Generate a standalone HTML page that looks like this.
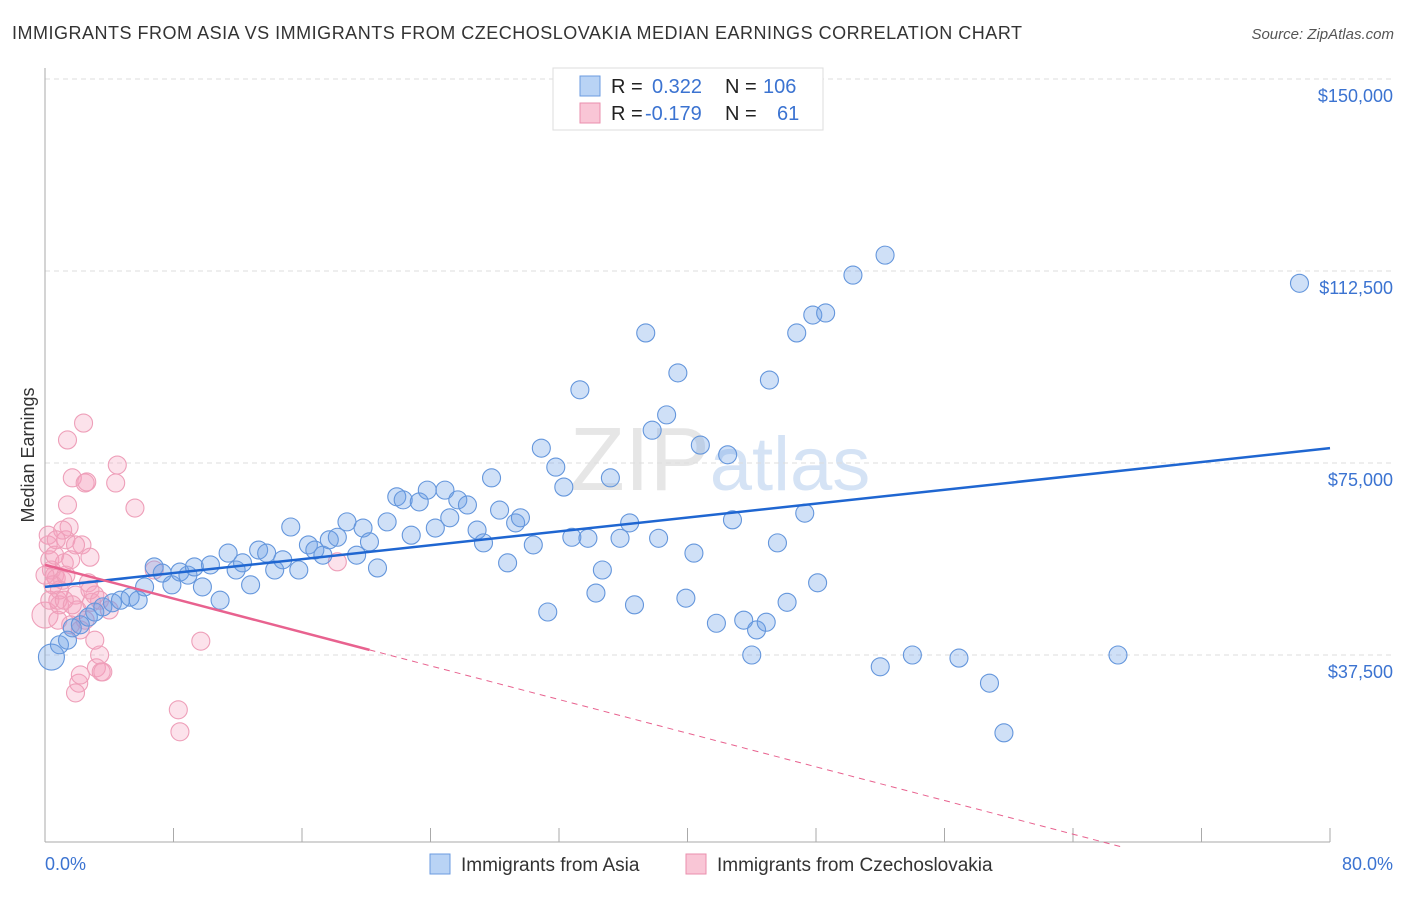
<!DOCTYPE html>
<html><head><meta charset="utf-8"><style>
body{margin:0;background:#fff;font-family:"Liberation Sans",sans-serif;}
svg text{font-family:"Liberation Sans",sans-serif;}
</style></head><body>
<svg id="chart" width="1406" height="892" xmlns="http://www.w3.org/2000/svg">
<text x="12" y="39" font-size="18" fill="#333" textLength="1010" lengthAdjust="spacing">IMMIGRANTS FROM ASIA VS IMMIGRANTS FROM CZECHOSLOVAKIA MEDIAN EARNINGS CORRELATION CHART</text>
<text x="1394" y="39" font-size="15" fill="#555" text-anchor="end" font-style="italic">Source: ZipAtlas.com</text>
<text x="720" y="490" font-size="90" fill="#e6e6e6" text-anchor="middle" font-family="Liberation Serif">ZIP<tspan fill="#d5e3f5" font-family="Liberation Sans" font-size="76">atlas</tspan></text>
<text transform="translate(34,455) rotate(-90)" font-size="18" fill="#333" text-anchor="middle">Median Earnings</text>
<g id="grid"></g><g id="axes"></g><g id="marks"></g><g id="lines"></g>
<g>
<rect x="553" y="68" width="270" height="62" fill="#fff" stroke="#ddd"/>
<rect x="580" y="76" width="20" height="20" fill="#b9d3f5" stroke="#6b9be0"/>
<rect x="580" y="103" width="20" height="20" fill="#f9c6d6" stroke="#ea8fad"/>
<text x="611" y="93" font-size="20" fill="#222">R = <tspan fill="#3b73d1" x="652">0.322</tspan><tspan x="725" fill="#222">N = </tspan><tspan fill="#3b73d1" x="763">106</tspan></text>
<text x="611" y="120" font-size="20" fill="#222">R = <tspan fill="#3b73d1" x="645">-0.179</tspan><tspan x="725" fill="#222">N = </tspan><tspan fill="#3b73d1" x="777">61</tspan></text>
</g>
<g>
<rect x="430" y="854" width="20" height="20" fill="#b9d3f5" stroke="#6b9be0"/>
<text x="461" y="871" font-size="19" fill="#333">Immigrants from Asia</text>
<rect x="686" y="854" width="20" height="20" fill="#f9c6d6" stroke="#ea8fad"/>
<text x="717" y="871" font-size="19" fill="#333">Immigrants from Czechoslovakia</text>
</g>
<text x="45" y="870" font-size="18" fill="#3b73d1">0.0%</text>
<text x="1393" y="870" font-size="18" fill="#3b73d1" text-anchor="end">80.0%</text>
</svg>
<script>
const yTickValues=[37500,75000,112500,150000];
const yTickLabels=["$37,500","$75,000","$112,500","$150,000"];
const xTickValues=[0,8,16,24,32,40,48,56,64,72,80];
const asiaX=[0.4,0.9,1.4,1.7,2.2,2.7,3.1,3.6,4.2,4.7,5.3,5.8,6.2,6.8,7.3,7.9,8.4,8.9,9.3,9.8,10.3,10.9,11.4,11.9,12.3,12.8,13.3,13.8,14.3,14.8,15.8,15.3,16.4,16.8,17.3,17.7,18.2,18.8,19.4,19.8,20.2,20.7,21.3,21.9,22.3,22.8,23.3,23.8,24.3,24.9,25.2,25.7,26.3,26.9,27.3,27.8,28.3,28.8,29.3,29.6,30.4,30.9,31.3,31.8,32.3,32.8,33.3,33.8,34.3,34.7,35.2,35.8,36.4,36.7,37.4,37.8,38.2,38.7,39.4,39.9,40.4,40.8,41.8,42.5,42.8,43.5,44.0,44.3,44.9,45.1,45.6,46.2,46.8,47.3,47.8,48.1,48.6,50.3,52.0,52.3,54.0,56.9,58.8,59.7,66.8,78.1];
const asiaY=[37.1,39.5,40.4,42.8,43.4,44.9,45.9,46.9,47.7,48.2,48.8,48.2,50.8,54.7,53.5,51.2,53.7,53.1,54.7,50.8,55.1,48.2,57.4,54.1,55.5,51.2,58.0,57.4,54.1,56.1,54.1,62.5,59.0,58.0,57.0,60.0,60.5,63.5,57.0,62.3,59.6,54.5,63.5,68.4,67.8,60.9,67.4,69.7,62.3,69.7,64.3,67.8,66.8,61.9,59.4,72.1,65.8,55.5,63.3,64.3,59.0,77.9,45.9,74.2,70.3,60.5,89.3,60.3,49.6,54.1,72.1,60.3,63.3,47.3,100.4,81.4,60.3,84.4,92.6,48.6,57.4,78.5,43.7,76.6,63.9,44.3,37.5,42.4,43.9,91.2,59.4,47.8,100.4,65.2,103.9,51.6,104.3,111.7,35.2,115.6,37.5,36.9,32.0,22.3,37.5,110.1];
const czechX=[0,0.2,0.3,0.4,0.6,0.7,0.8,0.9,1.1,1.2,1.3,1.4,1.5,1.6,1.7,2.5,1.4,1.9,2.0,2.2,2.3,2.4,2.6,2.7,2.8,2.9,3.1,3.2,3.4,3.5,3.6,2.1,1.9,2.2,4.5,4.4,5.6,8.3,8.4,9.7,18.2,6.8,2.5,0.9,0.6,0.3,1.2,1.6,2.8,3.4,4.0,1.1,1.9,0.5,0.8,1.3,1.7,3.1,0,0.2,0.7];
const czechY=[45.3,59.0,56.1,54.1,53.1,52.5,48.2,47.3,52.1,55.5,60.0,66.8,62.5,43.4,72.1,71.1,79.5,49.2,46.3,42.4,59.0,82.8,71.3,51.6,56.6,47.8,49.2,35.0,37.5,34.2,34.2,32.0,30.1,33.6,74.6,71.1,66.2,26.8,22.5,40.2,55.7,54.1,44.3,50.2,57.0,48.2,48.2,56.1,50.2,48.2,46.3,61.9,59.0,51.2,44.3,53.1,47.3,40.4,53.1,60.9,60.0];
const asiaTrend=[50.8,77.9];
const czechTrend=[55.1,38.5];
const czechSolidEnd=20.2;
const NS="http://www.w3.org/2000/svg";
const X0=45,X1=1330,Y0=847,PXK=192/37.5;
function xs(v){return X0+(v/80)*(X1-X0);}
function ys(k){return Y0-k*PXK;}
function mk(tag,attrs,parent){const e=document.createElementNS(NS,tag);for(const k in attrs)e.setAttribute(k,attrs[k]);parent.appendChild(e);return e;}
const grid=document.getElementById('grid'),axes=document.getElementById('axes'),marks=document.getElementById('marks'),lines=document.getElementById('lines');
yTickValues.forEach((v,i)=>{
 const y=ys(v/1000);
 const l=mk('line',{x1:X0,x2:1393,y1:y,y2:y,stroke:'#ddd','stroke-dasharray':'5,4'},grid);
 
 
 const t=mk('text',{x:1393,y:y+23,'font-size':18,fill:'#3b73d1','text-anchor':'end'},grid);
 t.textContent=yTickLabels[i];
 
 
});
const ax=mk('line',{x1:X0,x2:X0,y1:68,y2:842,stroke:'#aaa'},axes);


const bx=mk('line',{x1:X0,x2:X1,y1:842,y2:842,stroke:'#aaa'},axes);


xTickValues.forEach(v=>{
 const t=mk('line',{x1:xs(v),x2:xs(v),y1:828,y2:842,stroke:'#aaa'},axes);
 
 
});
function dot(x,y,r,fill,stroke,name){
 const c=mk('circle',{cx:xs(x),cy:ys(y),r:r,fill:fill,stroke:stroke,'stroke-width':1.1},marks);
 
 
}
czechX.forEach((x,i)=>dot(x,czechY[i],i===0?13:9,'rgba(244,160,188,0.3)','#ee9fb9','czech-point'));
asiaX.forEach((x,i)=>dot(x,asiaY[i],i===0?13:9,'rgba(110,160,230,0.33)','#6496dc','asia-point'));
const bl=mk('line',{x1:xs(0),y1:ys(asiaTrend[0]),x2:xs(80),y2:ys(asiaTrend[1]),stroke:'#1f66d1','stroke-width':2.5},lines);


const slope=(czechTrend[1]-czechTrend[0])/czechSolidEnd;
const pl=mk('line',{x1:xs(0),y1:ys(czechTrend[0]),x2:xs(czechSolidEnd),y2:ys(czechTrend[1]),stroke:'#e8628f','stroke-width':2.5},lines);


const xEnd=-czechTrend[0]/slope;
const pd=mk('line',{x1:xs(czechSolidEnd),y1:ys(czechTrend[1]),x2:xs(xEnd),y2:ys(0),stroke:'#e8628f','stroke-width':1,'stroke-dasharray':'6,5'},lines);


</script>
</body></html>
